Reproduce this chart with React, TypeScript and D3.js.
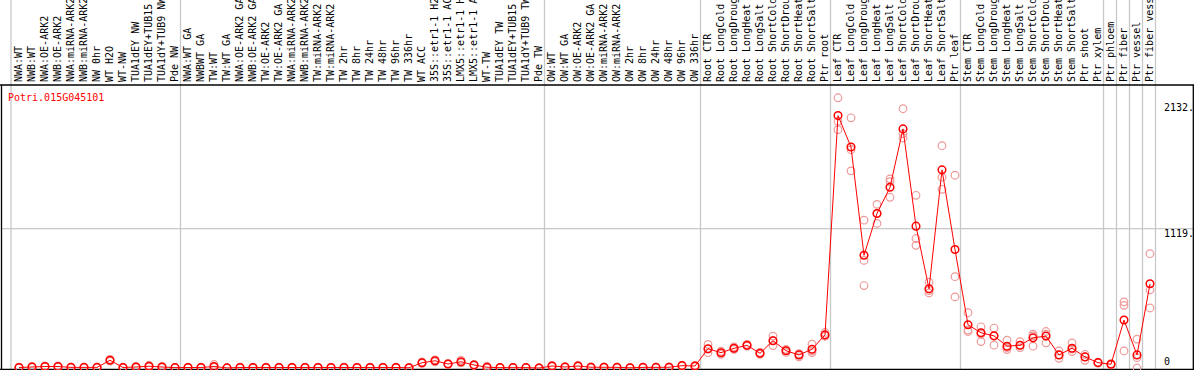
import React from 'react';
import * as d3 from 'd3';

const geneId = 'Potri.015G045101';

const categories = [
  'NWA:WT', 'NWB:WT', 'NWA:OE-ARK2', 'NWB:OE-ARK2', 'NWA:miRNA-ARK2', 'NWB:miRNA-ARK2',
  'NW 0hr', 'WT H2O', 'WT-NW', 'TUA1dEY NW', 'TUA1dEY+TUB15 NW', 'TUA1dY+TUB9 NW', 'Pde NW',
  'NWA:WT GA', 'NWBWT GA', 'TW:WT', 'TW:WT GA', 'NWA:OE-ARK2 GA', 'NWB:OE-ARK2 GA',
  'TW:OE-ARK2', 'TW:OE-ARK2 GA', 'NWA:miRNA-ARK2', 'NWB:miRNA-ARK2', 'TW:miRNA-ARK2',
  'TW:miRNA-ARK2', 'TW 2hr', 'TW 8hr', 'TW 24hr', 'TW 48hr', 'TW 96hr', 'TW 336hr',
  'WT ACC', '35S::etr1-1 H2O', '35S::etr1-1 ACC', 'LMX5::etr1-1 H2O', 'LMX5::etr1-1 ACC',
  'WT-TW', 'TUA1dEY TW', 'TUA1dEY+TUB15 TW', 'TUA1dY+TUB9 TW', 'Pde TW',
  'OW:WT', 'OW:WT GA', 'OW:OE-ARK2', 'OW:OE-ARK2 GA', 'OW:miRNA-ARK2', 'OW:miRNA-ARK2',
  'OW 2hr', 'OW 8hr', 'OW 24hr', 'OW 48hr', 'OW 96hr', 'OW 336hr',
  'Root CTR', 'Root LongCold', 'Root LongDrought', 'Root LongHeat', 'Root LongSalt',
  'Root ShortCold', 'Root ShortDrought', 'Root ShortHeat', 'Root ShortSalt', 'Ptr root',
  'Leaf CTR', 'Leaf LongCold', 'Leaf LongDrought', 'Leaf LongHeat', 'Leaf LongSalt',
  'Leaf ShortCold', 'Leaf ShortDrought', 'Leaf ShortHeat', 'Leaf ShortSalt', 'Ptr leaf',
  'Stem CTR', 'Stem LongCold', 'Stem LongDrought', 'Stem LongHeat', 'Stem LongSalt',
  'Stem ShortCold', 'Stem ShortDrought', 'Stem ShortHeat', 'Stem ShortSalt', 'Ptr shoot',
  'Ptr xylem', 'Ptr phloem', 'Ptr fiber', 'Ptr vessel', 'Ptr fiber vessel',
];

// labels are cut at 15 characters in the original
const maxLabelChars = 15;

// index of the last category of each group (separator drawn after it)
const groupEnds = [12, 40, 52, 62, 72, 83, 84, 85, 86, 87];

const meanValues = [
  4, 8, 12, 12, 5, 5, 5, 62, 4, 8, 14, 8, 3,
  4, 4, 12, 1, 4, 4, 4, 4, 4, 4, 4, 4, 4, 4, 4, 4, 4, 2,
  42, 58, 32, 50, 24, 6, 3, 3, 3, 0,
  16, 8, 16, 6, 6, 5, 2, 5, 5, 6, 19, 16,
  155, 123, 158, 182, 118, 219, 139, 105, 151, 266,
  2027, 1775, 905, 1241, 1451, 1920, 1139, 636, 1591, 951,
  347, 283, 258, 175, 183, 242, 256, 105, 159, 89, 43,
  30, 385, 105, 676,
];

const rep1 = [
  2, 6, 10, 8, 3, 3, 3, 55, 2, 5, 10, 5, 1,
  2, 2, 6, 0, 2, 2, 2, 2, 2, 2, 2, 2, 2, 2, 2, 2, 2, 1,
  38, 50, 28, 44, 20, 2, 1, 1, 1, 0,
  12, 6, 12, 4, 4, 3, 1, 3, 3, 4, 15, 12,
  190, 110, 150, 175, 110, 256, 125, 90, 191, 285,
  2170, 2009, 1187, 1314, 1519, 2082, 1387, 689, 1785, 1548,
  444, 331, 321, 224, 212, 272, 293, 137, 202, 110, 40,
  25, 531, 232, 918,
];

const rep2 = [
  6, 12, 16, 16, 7, 7, 7, 70, 6, 12, 22, 12, 5,
  6, 6, 28, 2, 6, 6, 6, 6, 6, 6, 6, 6, 6, 6, 6, 6, 6, 3,
  48, 66, 36, 64, 28, 14, 5, 5, 5, 1,
  20, 10, 22, 8, 8, 7, 3, 7, 7, 8, 23, 20,
  123, 135, 170, 190, 125, 180, 150, 115, 124, 258,
  1981, 1753, 864, 1241, 1497, 1882, 1040, 622, 1532, 733,
  293, 272, 258, 164, 183, 258, 272, 105, 151, 89, 46,
  35, 503, 0, 628,
];

const rep3 = [
  4, 6, 10, 12, 5, 5, 5, 62, 4, 7, 10, 7, 3,
  4, 4, 6, 1, 4, 4, 4, 4, 4, 4, 4, 4, 4, 4, 4, 4, 4, 2,
  40, 58, 32, 42, 24, 4, 3, 3, 3, 0,
  16, 8, 14, 6, 6, 5, 2, 5, 5, 6, 19, 16,
  152, 124, 154, 181, 119, 221, 142, 110, 138, 255,
  1914, 1583, 662, 1161, 1371, 1847, 985, 603, 1435, 571,
  305, 212, 183, 148, 164, 175, 202, 78, 132, 62, 43,
  30, 137, 83, 482,
];

const yTicks = [0, 1119, 2132];
const yTickLabels = ['0', '1119.', '2132.'];

const W = 1194;
const H = 370;
const headerBottom = 85;
const font = '"DejaVu Sans Mono", "Liberation Mono", monospace';

export default function App() {
  const x = d3.scaleLinear().domain([0, categories.length - 1]).range([19, 19 + 13 * (categories.length - 1)]);
  const y = d3.scaleLinear().domain([0, 2132]).range([368, 102.5]);

  const line = d3.line<number>()
    .x((_, i) => x(i))
    .y(d => y(d));

  const reps = [rep1, rep2, rep3];
  const sepX = [x(0) - 8, ...groupEnds.map(i => x(i) + 5.5)];

  return (
    <svg width={W} height={H} style={{ position: 'absolute', left: 0, top: 0, background: '#fff' }}
      fontFamily={font} fontSize={10}>
      {/* group separators */}
      {sepX.map((sx, i) => (
        <line key={'s' + i} x1={sx} x2={sx} y1={0} y2={H} stroke="#c8c8c8" strokeWidth={1.3} />
      ))}
      {/* mid grid line */}
      <line x1={2} x2={1193} y1={y(1119)} y2={y(1119)} stroke="#c8c8c8" strokeWidth={1.3} />

      {/* frame */}
      <line x1={0} x2={1194} y1={headerBottom} y2={headerBottom} stroke="#000" strokeWidth={1.3} />
      <line x1={1.5} x2={1.5} y1={headerBottom} y2={H} stroke="#000" strokeWidth={1.3} />
      <line x1={1193.3} x2={1193.3} y1={headerBottom} y2={H} stroke="#000" strokeWidth={1.3} />
      <line x1={0} x2={1194} y1={369.3} y2={369.3} stroke="#000" strokeWidth={1.3} />

      {/* category labels */}
      {categories.map((c, i) => (
        <text key={'l' + i} transform={`translate(${x(i) + 3},82) rotate(-90)`} fill="#000">
          {c.slice(0, maxLabelChars)}
        </text>
      ))}

      {/* y tick labels */}
      {yTicks.map((t, i) => (
        <text key={'t' + i} x={1164} y={t === 0 ? 365 : y(t) + 8} fill="#000">{yTickLabels[i]}</text>
      ))}

      <text x={8} y={101} fill="#ff0000">{geneId}</text>

      {/* replicates */}
      {reps.map((r, k) => r.map((v, i) => (
        <circle key={`r${k}-${i}`} cx={x(i)} cy={y(v)} r={3.8} fill="none" stroke="#ee9a9a" strokeWidth={1.2} />
      )))}

      {/* mean line */}
      <path d={line(meanValues) || ''} fill="none" stroke="#ff0000" strokeWidth={1} />
      {meanValues.map((v, i) => (
        <circle key={'m' + i} cx={x(i)} cy={y(v)} r={3.8} fill="none" stroke="#ff0000" strokeWidth={1.5} />
      ))}
    </svg>
  );
}
